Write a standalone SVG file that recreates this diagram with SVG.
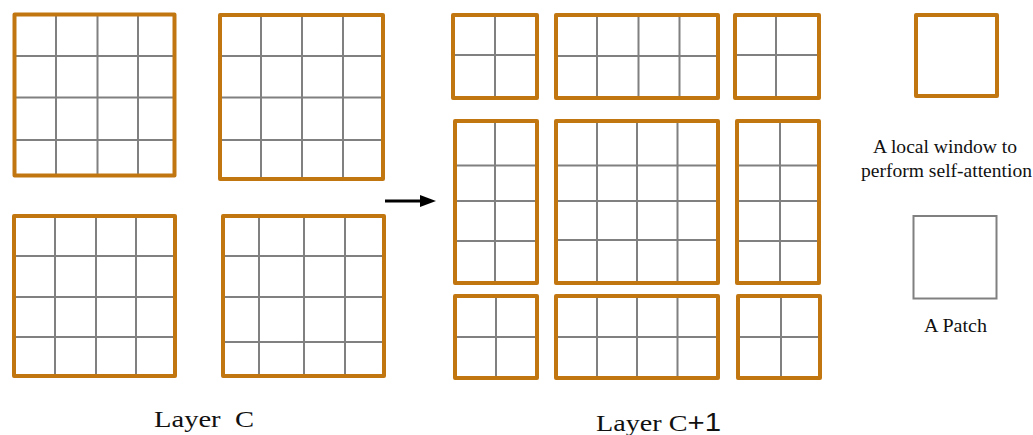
<svg xmlns="http://www.w3.org/2000/svg" width="1033" height="435" viewBox="0 0 1033 435">
<style>
.win{fill:none;stroke:#C27610;stroke-width:4;stroke-linejoin:round}
.g{stroke:#808080;stroke-width:2;fill:none}
.patch{fill:none;stroke:#808080;stroke-width:2}
.t{fill:#111}
</style>
<rect width="1033" height="435" fill="#fff"/>
<g id="layerC">
<g id="w1"><path class="g" d="M56 15V175M97.5 15V175M138 15V175M15 56H174M15 97.5H174M15 140H174"/><rect class="win" x="14.5" y="14.5" width="160" height="161"/></g>
<g id="w2"><path class="g" d="M261 15V179M302 15V179M343 15V179M220 56H383M220 97.5H383M220 140H383"/><rect class="win" x="220" y="15" width="163" height="164"/></g>
<g id="w3"><path class="g" d="M55 216V376M96 216V376M136 216V376M14 256H175M14 297H175M14 337H175"/><rect class="win" x="14" y="216" width="161" height="160"/></g>
<g id="w4"><path class="g" d="M259 216V376M304 216V376M345 216V376M223 256H384M223 297H384M223 342H384"/><rect class="win" x="223" y="216" width="161" height="160"/></g>
</g>
<g id="connectors">
<line x1="385" y1="201" x2="423" y2="201" stroke="#000" stroke-width="3"/>
<polygon points="420,195 436,201 420,207" fill="#000"/>
</g>
<g id="layerC1">
<g id="wA"><path class="g" d="M495 15V98M453 55H537"/><rect class="win" x="453" y="15" width="84" height="83"/></g>
<g id="wB"><path class="g" d="M597 15V98M638.5 15V98M679.5 15V98M556 56H718"/><rect class="win" x="556" y="15" width="162" height="83"/></g>
<g id="wC"><path class="g" d="M776 15V98M735 55H819"/><rect class="win" x="735" y="15" width="84" height="83"/></g>
<g id="wD"><path class="g" d="M495 121V283M455 165.5H537M455 201H537M455 241H537"/><rect class="win" x="455" y="121" width="82" height="162"/></g>
<g id="wE"><path class="g" d="M597 121V283M637 121V283M677.5 121V283M556 165.5H718M556 201H718M556 240H718"/><rect class="win" x="556" y="121" width="162" height="162"/></g>
<g id="wF"><path class="g" d="M780 121V283M737 165.5H819M737 201H819M737 241H819"/><rect class="win" x="737" y="121" width="82" height="162"/></g>
<g id="wG"><path class="g" d="M496 296V378M455 337H537"/><rect class="win" x="455" y="296" width="82" height="82"/></g>
<g id="wH"><path class="g" d="M597 296V378M637 296V378M677.5 296V378M556 337H718"/><rect class="win" x="556" y="296" width="162" height="82"/></g>
<g id="wI"><path class="g" d="M781 296V378M738 337H820"/><rect class="win" x="738" y="296" width="82" height="82"/></g>
</g>
<g id="legend-window"><rect class="win" x="916" y="15" width="81" height="81"/>
<text class="t" font-family="Liberation Serif, Times New Roman, DejaVu Serif, serif" x="873" y="153" font-size="18" textLength="144" lengthAdjust="spacingAndGlyphs">A local window to</text>
<text class="t" font-family="Liberation Serif, Times New Roman, DejaVu Serif, serif" x="861" y="177" font-size="18" textLength="171" lengthAdjust="spacingAndGlyphs">perform self-attention</text></g>
<g id="legend-patch"><rect class="patch" x="913.5" y="216" width="83" height="82.5"/>
<text class="t" font-family="Liberation Serif, Times New Roman, DejaVu Serif, serif" x="924" y="332" font-size="18" textLength="63" lengthAdjust="spacingAndGlyphs">A Patch</text></g>
<text class="t" font-family="Liberation Serif, Times New Roman, DejaVu Serif, serif" x="154" y="427" font-size="24" xml:space="preserve" textLength="100" lengthAdjust="spacingAndGlyphs">Layer  C</text>
<text class="t" font-family="Liberation Serif, Times New Roman, DejaVu Serif, serif" x="596" y="431" font-size="24" textLength="125" lengthAdjust="spacingAndGlyphs">Layer C<tspan font-family="Liberation Sans, Arial, sans-serif" font-size="25">+1</tspan></text>
</svg>
